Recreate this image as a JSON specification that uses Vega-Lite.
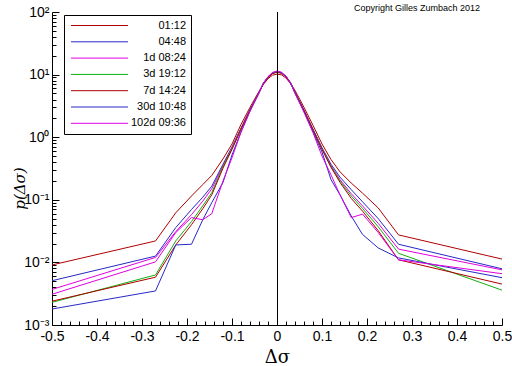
{
"$schema": "https://vega.github.io/schema/vega-lite/v6.json",
"width": 450, "height": 313,
"autosize": {"type": "none"},
"padding": {"left": 52, "top": 12, "right": 10, "bottom": 41},
"background": "white",
"config": {"view": {"stroke": null}, "font": "Liberation Sans"},
"title": {"text": "Copyright Gilles Zumbach 2012", "anchor": "end", "frame": "group", "orient": "top", "offset": 0, "dy": 8, "dx": -22, "fontSize": 9, "fontWeight": "normal", "font": "Liberation Sans", "color": "black"},
"layer": [
{
"data": {"values": [
{"s":"01:12","x":-0.5,"p":0.0091},{"s":"01:12","x":-0.27,"p":0.022},{"s":"01:12","x":-0.225,"p":0.062},{"s":"01:12","x":-0.19,"p":0.115},{"s":"01:12","x":-0.165,"p":0.175},{"s":"01:12","x":-0.145,"p":0.245},{"s":"01:12","x":-0.12,"p":0.45},{"s":"01:12","x":-0.1,"p":0.78},{"s":"01:12","x":-0.08,"p":1.6},{"s":"01:12","x":-0.06,"p":3.0},{"s":"01:12","x":-0.04,"p":5.4},{"s":"01:12","x":-0.03,"p":7.0},{"s":"01:12","x":-0.02,"p":8.6},{"s":"01:12","x":-0.01,"p":9.8},{"s":"01:12","x":0,"p":10.2},{"s":"01:12","x":0.01,"p":9.9},{"s":"01:12","x":0.02,"p":8.8},{"s":"01:12","x":0.03,"p":7.2},{"s":"01:12","x":0.04,"p":5.6},{"s":"01:12","x":0.06,"p":3.0},{"s":"01:12","x":0.08,"p":1.55},{"s":"01:12","x":0.1,"p":0.78},{"s":"01:12","x":0.12,"p":0.44},{"s":"01:12","x":0.14,"p":0.28},{"s":"01:12","x":0.165,"p":0.185},{"s":"01:12","x":0.19,"p":0.128},{"s":"01:12","x":0.225,"p":0.074},{"s":"01:12","x":0.27,"p":0.0275},{"s":"01:12","x":0.5,"p":0.0113},
{"s":"04:48","x":-0.5,"p":0.0051},{"s":"04:48","x":-0.27,"p":0.0126},{"s":"04:48","x":-0.225,"p":0.036},{"s":"04:48","x":-0.19,"p":0.07},{"s":"04:48","x":-0.165,"p":0.11},{"s":"04:48","x":-0.145,"p":0.165},{"s":"04:48","x":-0.12,"p":0.37},{"s":"04:48","x":-0.1,"p":0.7},{"s":"04:48","x":-0.08,"p":1.4},{"s":"04:48","x":-0.06,"p":2.75},{"s":"04:48","x":-0.04,"p":5.2},{"s":"04:48","x":-0.03,"p":7.3},{"s":"04:48","x":-0.02,"p":9.1},{"s":"04:48","x":-0.01,"p":10.5},{"s":"04:48","x":0,"p":11.0},{"s":"04:48","x":0.01,"p":10.6},{"s":"04:48","x":0.02,"p":9.3},{"s":"04:48","x":0.03,"p":7.4},{"s":"04:48","x":0.04,"p":5.2},{"s":"04:48","x":0.06,"p":2.7},{"s":"04:48","x":0.08,"p":1.35},{"s":"04:48","x":0.1,"p":0.68},{"s":"04:48","x":0.12,"p":0.37},{"s":"04:48","x":0.14,"p":0.23},{"s":"04:48","x":0.165,"p":0.145},{"s":"04:48","x":0.19,"p":0.093},{"s":"04:48","x":0.225,"p":0.05},{"s":"04:48","x":0.27,"p":0.0195},{"s":"04:48","x":0.5,"p":0.0079},
{"s":"1d 08:24","x":-0.5,"p":0.0037},{"s":"1d 08:24","x":-0.27,"p":0.012},{"s":"1d 08:24","x":-0.225,"p":0.031},{"s":"1d 08:24","x":-0.19,"p":0.058},{"s":"1d 08:24","x":-0.165,"p":0.095},{"s":"1d 08:24","x":-0.145,"p":0.15},{"s":"1d 08:24","x":-0.12,"p":0.35},{"s":"1d 08:24","x":-0.1,"p":0.68},{"s":"1d 08:24","x":-0.08,"p":1.38},{"s":"1d 08:24","x":-0.06,"p":2.75},{"s":"1d 08:24","x":-0.04,"p":5.2},{"s":"1d 08:24","x":-0.03,"p":7.3},{"s":"1d 08:24","x":-0.02,"p":9.2},{"s":"1d 08:24","x":-0.01,"p":10.6},{"s":"1d 08:24","x":0,"p":11.2},{"s":"1d 08:24","x":0.01,"p":10.7},{"s":"1d 08:24","x":0.02,"p":9.3},{"s":"1d 08:24","x":0.03,"p":7.4},{"s":"1d 08:24","x":0.04,"p":5.2},{"s":"1d 08:24","x":0.06,"p":2.7},{"s":"1d 08:24","x":0.08,"p":1.33},{"s":"1d 08:24","x":0.1,"p":0.66},{"s":"1d 08:24","x":0.12,"p":0.35},{"s":"1d 08:24","x":0.14,"p":0.21},{"s":"1d 08:24","x":0.165,"p":0.125},{"s":"1d 08:24","x":0.19,"p":0.08},{"s":"1d 08:24","x":0.225,"p":0.042},{"s":"1d 08:24","x":0.27,"p":0.0163},{"s":"1d 08:24","x":0.5,"p":0.0076},
{"s":"3d 19:12","x":-0.5,"p":0.0023},{"s":"3d 19:12","x":-0.27,"p":0.0063},{"s":"3d 19:12","x":-0.225,"p":0.022},{"s":"3d 19:12","x":-0.19,"p":0.045},{"s":"3d 19:12","x":-0.165,"p":0.08},{"s":"3d 19:12","x":-0.145,"p":0.13},{"s":"3d 19:12","x":-0.12,"p":0.34},{"s":"3d 19:12","x":-0.1,"p":0.66},{"s":"3d 19:12","x":-0.08,"p":1.36},{"s":"3d 19:12","x":-0.06,"p":2.72},{"s":"3d 19:12","x":-0.04,"p":5.2},{"s":"3d 19:12","x":-0.03,"p":7.3},{"s":"3d 19:12","x":-0.02,"p":9.2},{"s":"3d 19:12","x":-0.01,"p":10.6},{"s":"3d 19:12","x":0,"p":11.1},{"s":"3d 19:12","x":0.01,"p":10.6},{"s":"3d 19:12","x":0.02,"p":9.3},{"s":"3d 19:12","x":0.03,"p":7.4},{"s":"3d 19:12","x":0.04,"p":5.2},{"s":"3d 19:12","x":0.06,"p":2.68},{"s":"3d 19:12","x":0.08,"p":1.32},{"s":"3d 19:12","x":0.1,"p":0.65},{"s":"3d 19:12","x":0.12,"p":0.34},{"s":"3d 19:12","x":0.14,"p":0.2},{"s":"3d 19:12","x":0.165,"p":0.115},{"s":"3d 19:12","x":0.19,"p":0.073},{"s":"3d 19:12","x":0.225,"p":0.037},{"s":"3d 19:12","x":0.27,"p":0.014},{"s":"3d 19:12","x":0.5,"p":0.0036},
{"s":"7d 14:24","x":-0.5,"p":0.0024},{"s":"7d 14:24","x":-0.27,"p":0.0058},{"s":"7d 14:24","x":-0.225,"p":0.019},{"s":"7d 14:24","x":-0.19,"p":0.04},{"s":"7d 14:24","x":-0.165,"p":0.072},{"s":"7d 14:24","x":-0.145,"p":0.12},{"s":"7d 14:24","x":-0.12,"p":0.32},{"s":"7d 14:24","x":-0.1,"p":0.64},{"s":"7d 14:24","x":-0.08,"p":1.34},{"s":"7d 14:24","x":-0.06,"p":2.7},{"s":"7d 14:24","x":-0.04,"p":5.1},{"s":"7d 14:24","x":-0.03,"p":7.2},{"s":"7d 14:24","x":-0.02,"p":9.0},{"s":"7d 14:24","x":-0.01,"p":10.4},{"s":"7d 14:24","x":0,"p":10.9},{"s":"7d 14:24","x":0.01,"p":10.5},{"s":"7d 14:24","x":0.02,"p":9.2},{"s":"7d 14:24","x":0.03,"p":7.3},{"s":"7d 14:24","x":0.04,"p":5.1},{"s":"7d 14:24","x":0.06,"p":2.65},{"s":"7d 14:24","x":0.08,"p":1.3},{"s":"7d 14:24","x":0.1,"p":0.64},{"s":"7d 14:24","x":0.12,"p":0.33},{"s":"7d 14:24","x":0.14,"p":0.19},{"s":"7d 14:24","x":0.165,"p":0.105},{"s":"7d 14:24","x":0.19,"p":0.066},{"s":"7d 14:24","x":0.225,"p":0.032},{"s":"7d 14:24","x":0.27,"p":0.011},{"s":"7d 14:24","x":0.5,"p":0.0045},
{"s":"30d 10:48","x":-0.5,"p":0.0018},{"s":"30d 10:48","x":-0.27,"p":0.0035},{"s":"30d 10:48","x":-0.225,"p":0.019},{"s":"30d 10:48","x":-0.19,"p":0.0195},{"s":"30d 10:48","x":-0.165,"p":0.048},{"s":"30d 10:48","x":-0.145,"p":0.09},{"s":"30d 10:48","x":-0.12,"p":0.19},{"s":"30d 10:48","x":-0.1,"p":0.52},{"s":"30d 10:48","x":-0.08,"p":1.22},{"s":"30d 10:48","x":-0.06,"p":2.6},{"s":"30d 10:48","x":-0.04,"p":5.1},{"s":"30d 10:48","x":-0.03,"p":7.3},{"s":"30d 10:48","x":-0.02,"p":9.2},{"s":"30d 10:48","x":-0.01,"p":10.7},{"s":"30d 10:48","x":0,"p":11.3},{"s":"30d 10:48","x":0.01,"p":10.8},{"s":"30d 10:48","x":0.02,"p":9.4},{"s":"30d 10:48","x":0.03,"p":7.4},{"s":"30d 10:48","x":0.04,"p":5.1},{"s":"30d 10:48","x":0.06,"p":2.55},{"s":"30d 10:48","x":0.08,"p":1.22},{"s":"30d 10:48","x":0.1,"p":0.58},{"s":"30d 10:48","x":0.12,"p":0.21},{"s":"30d 10:48","x":0.14,"p":0.12},{"s":"30d 10:48","x":0.165,"p":0.055},{"s":"30d 10:48","x":0.19,"p":0.028},{"s":"30d 10:48","x":0.225,"p":0.017},{"s":"30d 10:48","x":0.27,"p":0.0118},{"s":"30d 10:48","x":0.5,"p":0.0057},
{"s":"102d 09:36","x":-0.5,"p":0.0031},{"s":"102d 09:36","x":-0.27,"p":0.0102},{"s":"102d 09:36","x":-0.225,"p":0.03},{"s":"102d 09:36","x":-0.19,"p":0.052},{"s":"102d 09:36","x":-0.165,"p":0.048},{"s":"102d 09:36","x":-0.145,"p":0.06},{"s":"102d 09:36","x":-0.12,"p":0.2},{"s":"102d 09:36","x":-0.1,"p":0.47},{"s":"102d 09:36","x":-0.08,"p":1.2},{"s":"102d 09:36","x":-0.06,"p":2.6},{"s":"102d 09:36","x":-0.04,"p":5.1},{"s":"102d 09:36","x":-0.03,"p":7.3},{"s":"102d 09:36","x":-0.02,"p":9.3},{"s":"102d 09:36","x":-0.01,"p":10.8},{"s":"102d 09:36","x":0,"p":11.4},{"s":"102d 09:36","x":0.01,"p":10.9},{"s":"102d 09:36","x":0.02,"p":9.4},{"s":"102d 09:36","x":0.03,"p":7.4},{"s":"102d 09:36","x":0.04,"p":5.0},{"s":"102d 09:36","x":0.06,"p":2.5},{"s":"102d 09:36","x":0.08,"p":1.18},{"s":"102d 09:36","x":0.1,"p":0.5},{"s":"102d 09:36","x":0.12,"p":0.25},{"s":"102d 09:36","x":0.14,"p":0.12},{"s":"102d 09:36","x":0.165,"p":0.052},{"s":"102d 09:36","x":0.19,"p":0.059},{"s":"102d 09:36","x":0.225,"p":0.03},{"s":"102d 09:36","x":0.27,"p":0.011},{"s":"102d 09:36","x":0.5,"p":0.0066}
]},
"mark": {"type": "line", "strokeWidth": 1, "clip": true},
"encoding": {
"x": {"field": "x", "type": "quantitative", "scale": {"domain": [-0.5, 0.5], "nice": false, "zero": false},
 "axis": {"orient": "bottom", "values": [-0.5,-0.4,-0.3,-0.2,-0.1,0,0.1,0.2,0.3,0.4,0.5], "labelExpr": "'' + datum.value", "tickSize": -7, "labelPadding": 11, "labelFontSize": 14, "labelFont": "Liberation Sans", "labelColor": "black", "tickColor": "black", "domainColor": "black", "grid": false, "labelFlush": false, "labelOverlap": false, "title": "Δσ", "titleFont": "DejaVu Serif", "titleFontSize": 18, "titleFontWeight": "normal", "titleColor": "black", "titlePadding": 5}},
"y": {"field": "p", "type": "quantitative", "scale": {"type": "log", "domain": [0.001, 100], "nice": false},
 "axis": {"orient": "left", "values": [0.001,0.01,0.1,1,10,100], "labelExpr": "datum.value >= 99 ? '10²' : datum.value >= 9 ? '10¹' : datum.value >= 0.9 ? '10⁰' : datum.value >= 0.09 ? '10⁻¹' : datum.value >= 0.009 ? '10⁻²' : '10⁻³'", "tickSize": -7, "labelPadding": 10, "labelFontSize": 14, "labelFont": "Liberation Sans", "labelColor": "black", "tickColor": "black", "domainColor": "black", "grid": false, "labelFlush": false, "labelOverlap": false, "title": "p(Δσ)", "titleFont": "DejaVu Serif", "titleFontSize": 15, "titleFontWeight": "normal", "titleFontStyle": "italic", "titleColor": "black", "titleX": -33, "titleY": 176, "titleAngle": -90, "titleAlign": "center", "titleBaseline": "middle"}},
"color": {"field": "s", "type": "nominal",
 "scale": {"domain": ["01:12","04:48","1d 08:24","3d 19:12","7d 14:24","30d 10:48","102d 09:36"], "range": ["#b00000","#2828c8","#e000e0","#10b010","#b00000","#2828c8","#e000e0"]},
 "legend": {"orient": "none", "legendX": 12, "legendY": 3, "title": null, "symbolType": "M-1,0H15.3", "symbolSize": 49, "symbolStrokeWidth": 1, "labelFontSize": 11, "labelFont": "Liberation Sans", "labelColor": "black", "labelAlign": "right", "labelOffset": 106, "labelLimit": 300, "strokeColor": "black", "fillColor": "white", "padding": 5, "rowPadding": 4.3}}
}
},
{
"data": {"values": [{"x": 0, "lo": 0.001, "hi": 100}]},
"mark": {"type": "rule", "color": "black", "strokeWidth": 1, "xOffset": 0.5},
"encoding": {
"x": {"field": "x", "type": "quantitative", "scale": {"domain": [-0.5, 0.5], "nice": false, "zero": false},
 "axis": {"orient": "bottom", "values": [-0.48,-0.46,-0.44,-0.42,-0.38,-0.36,-0.34,-0.32,-0.28,-0.26,-0.24,-0.22,-0.18,-0.16,-0.14,-0.12,-0.08,-0.06,-0.04,-0.02,0.02,0.04,0.06,0.08,0.12,0.14,0.16,0.18,0.22,0.24,0.26,0.28,0.32,0.34,0.36,0.38,0.42,0.44,0.46,0.48], "tickSize": -4, "tickColor": "black", "labels": false, "domain": false, "grid": false, "title": null}},
"y": {"field": "lo", "type": "quantitative", "scale": {"type": "log", "domain": [0.001, 100], "nice": false},
 "axis": {"orient": "left", "values": [0.002,0.003,0.004,0.005,0.006,0.007,0.008,0.009,0.02,0.03,0.04,0.05,0.06,0.07,0.08,0.09,0.2,0.3,0.4,0.5,0.6,0.7,0.8,0.9,2,3,4,5,6,7,8,9,20,30,40,50,60,70,80,90], "tickSize": -4, "tickColor": "black", "labels": false, "domain": false, "grid": false, "title": null}},
"y2": {"field": "hi"}
}
}
],
"resolve": {"axis": {"x": "independent", "y": "independent"}}
}
